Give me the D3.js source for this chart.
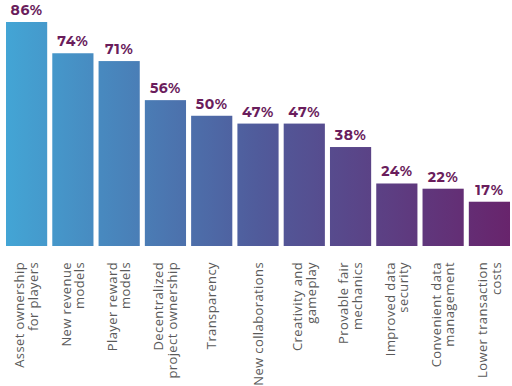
<!DOCTYPE html>
<html>
<head>
<meta charset="utf-8">
<script src="https://cdn.jsdelivr.net/npm/d3@7"></script>
<style>
  body { margin: 0; background: #fff; }
  svg { display: block; }
</style>
</head>
<body>
<svg id="chart" width="512" height="386"></svg>
<script>
// Chart data.
const categories = [
  ['Asset ownership', 'for players'],
  ['New revenue', 'models'],
  ['Player reward', 'models'],
  ['Decentralized', 'project ownership'],
  ['Transparency'],
  ['New collaborations'],
  ['Creativity and', 'gameplay'],
  ['Provable fair', 'mechanics'],
  ['Improved data', 'security'],
  ['Convenient data', 'management'],
  ['Lower transaction', 'costs'],
];
const values = [86, 74, 71, 56, 50, 47, 47, 38, 24, 22, 17];

const width = 512;
const height = 386;
const margin = {top: 0, right: 2, bottom: 140, left: 6};
const baseline = height - margin.bottom;

const svg = d3.select('#chart');

const x = d3.scaleBand()
  .domain(d3.range(values.length))
  .range([margin.left, width - margin.right])
  .paddingInner(0.11)
  .paddingOuter(0);

const y = d3.scaleLinear()
  .domain([0, 86])
  .range([baseline, 22]);

// One gradient running across the whole plot, so colours flow bar to bar.
const grad = svg.append('defs')
  .append('linearGradient')
  .attr('id', 'bar-grad')
  .attr('gradientUnits', 'userSpaceOnUse')
  .attr('x1', margin.left)
  .attr('x2', width - margin.right)
  .attr('y1', 0)
  .attr('y2', 0);
grad.append('stop').attr('offset', '0%').attr('stop-color', '#43a5d5');
grad.append('stop').attr('offset', '50%').attr('stop-color', '#505b9b');
grad.append('stop').attr('offset', '100%').attr('stop-color', '#68246c');

svg.append('g')
  .selectAll('rect')
  .data(values)
  .join('rect')
  .attr('x', (d, i) => x(i))
  .attr('y', (d) => y(d))
  .attr('width', x.bandwidth())
  .attr('height', (d) => baseline - y(d))
  .attr('fill', 'url(#bar-grad)');

// Value labels above each bar.
svg.append('g')
  .selectAll('text')
  .data(values)
  .join('text')
  .attr('x', (d, i) => x(i) + x.bandwidth() / 2)
  .attr('y', (d) => y(d) - 7)
  .attr('text-anchor', 'middle')
  .attr('font-family', 'Montserrat, "Open Sans", sans-serif')
  .attr('font-weight', 700)
  .attr('font-size', 14)
  .attr('letter-spacing', 0.6)
  .attr('fill', '#6a1d5c')
  .text((d) => `${d}%`);

// Rotated category labels, anchored at the top just under the baseline.
const lineGap = 13.5;
const labels = svg.append('g')
  .selectAll('text')
  .data(categories)
  .join('text')
  .attr('transform', (d, i) => {
    const cx = x(i) + x.bandwidth() / 2;
    return `translate(${cx},${baseline + 16}) rotate(-90)`;
  })
  .attr('text-anchor', 'end')
  .attr('font-family', '"Open Sans", sans-serif')
  .attr('font-size', 13)
  .attr('letter-spacing', 0.4)
  .attr('fill', '#5a5a5a');

labels.selectAll('tspan')
  .data((d) => d.map((line, j) => ({line, j, n: d.length})))
  .join('tspan')
  .attr('x', 0)
  .attr('y', (t) => (t.j - (t.n - 1) / 2) * lineGap + 4.5)
  .text((t) => t.line);
</script>
</body>
</html>
